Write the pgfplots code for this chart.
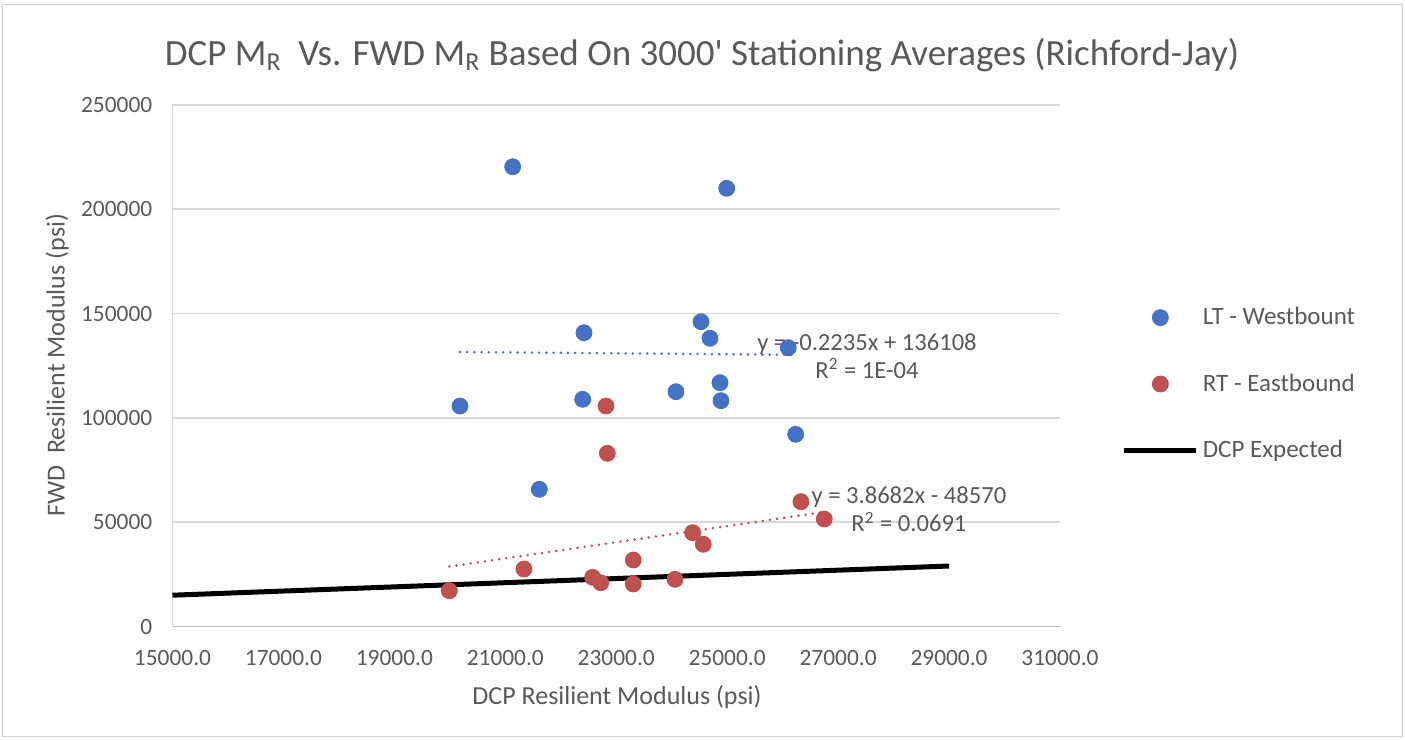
\documentclass[border=0pt]{standalone}
\usepackage{fontspec}
\setmainfont{Carlito}
\usepackage{pgfplots}
\pgfplotsset{compat=1.18}
\usetikzlibrary{calc}
\definecolor{txt}{HTML}{595959}
\definecolor{ltblue}{HTML}{4472C4}
\definecolor{rtred}{HTML}{C0504D}
\definecolor{gridc}{HTML}{D9D9D9}
\definecolor{framec}{HTML}{D0D0D0}

\begin{document}
\begin{tikzpicture}
\begin{axis}[
    name=ax, at={(0,0)}, anchor=south west,
    scale only axis, width=443.75pt, height=260.75pt,
    xmin=15000, xmax=31000, ymin=0, ymax=250000,
    xtick={15000,17000,...,31000}, ytick={0,50000,...,250000},
    scaled x ticks=false, scaled y ticks=false,
    /pgf/number format/assume math mode=true,
    xticklabel style={/pgf/number format/.cd, fixed, fixed zerofill, precision=1, 1000 sep={}},
    yticklabel style={/pgf/number format/.cd, fixed, 1000 sep={}},
    ticklabel style={font=\fontsize{11.7}{13}\selectfont, text=txt},
    major tick length=0pt,
    axis x line*=bottom, axis y line*=left,
    axis line style={-},
    x axis line style={draw=gray!55, line width=0.8pt},
    y axis line style={draw=gridc, line width=0.8pt},
    ymajorgrids, grid style={draw=gridc, line width=0.8pt},
    xticklabel shift=8.6pt, yticklabel shift=6.6pt,
    xlabel={DCP Resilient Modulus (psi)},
    ylabel={FWD\ \ Resilient Modulus (psi)},
    label style={font=\fontsize{13}{15}\selectfont, text=txt},
    xlabel style={at={(axis description cs:0.5009,-0.135)}, anchor=center},
    ylabel style={at={(axis description cs:-0.130,0.501)}, anchor=center},
    clip=false,
    legend style={at={(axis description cs:1.0625,0.465)}, anchor=west,
        draw=none, fill=none, font=\fontsize{12.5}{14}\selectfont, text=txt,
        row sep=19pt},
    legend cell align=left,
    legend image code/.code={\draw[mark repeat=2,mark phase=2,#1] plot coordinates {(0pt,0pt) (18pt,0pt) (36pt,0pt)};},
]
% LT - Westbount
\addplot[only marks, mark=*, mark size=4pt, draw=ltblue, fill=ltblue] coordinates {
    (21133,220400) (24991,210070) (24528,146120) (22418,140840)
    (24690,138160) (26101,133650) (24870,116870) (24077,112560)
    (22395,108920) (24888,108250) (20183,105700) (26235,92140)
    (21613,65770)
};
\addlegendentry{LT - Westbount}
% RT - Eastbound
\addplot[only marks, mark=*, mark size=4pt, draw=rtred, fill=rtred] coordinates {
    (22815,105700) (22839,83030) (26330,59830) (26750,51530)
    (24378,44970) (24569,39410) (23307,31880) (21337,27570)
    (22575,23590) (22720,21000) (23307,20370) (24059,22630)
    (19990,17160)
};
\addlegendentry{RT - Eastbound}
% DCP expected (y = x)
\addplot[black, line width=2.5pt] coordinates {(15000,15000) (29000,29000)};
\addlegendentry{DCP Expected}
% linear trendlines
\addplot[forget plot, ltblue, line width=1.4pt, line cap=round, dash pattern=on 0pt off 3.6pt]
    coordinates {(20183,131597) (26235,130244)};
\addplot[forget plot, rtred, line width=1.4pt, line cap=round, dash pattern=on 0pt off 3.6pt]
    coordinates {(19990,28754) (26750,54904)};
\node[align=center, text=txt, font=\fontsize{12.3}{14}\selectfont] at (axis cs:27520,129670)
    {y = -0.2235x + 136108\\R\textsuperscript{2} = 1E-04};
\node[align=center, text=txt, font=\fontsize{12.3}{14}\selectfont] at (axis cs:28277,56090)
    {y = 3.8682x - 48570\\R\textsuperscript{2} = 0.0691};
\end{axis}
\path[use as bounding box] (ax.south west) ++(-86.25pt,-56.75pt) rectangle ++(702.5pt,370pt);
\draw[framec, line width=0.8pt] ($(ax.south west)+(-85pt,-55pt)$) rectangle ($(ax.south west)+(615pt,311pt)$);
\node[text=txt, font=\fontsize{18.5}{20}\selectfont] at ($(ax.south west)+(264.75pt,285.75pt)$)
    {DCP M\textsubscript{R}\ \ Vs. FWD M\textsubscript{R} Based On 3000\textquotesingle\ Stationing Averages (Richford-Jay)};
\end{tikzpicture}
\end{document}
